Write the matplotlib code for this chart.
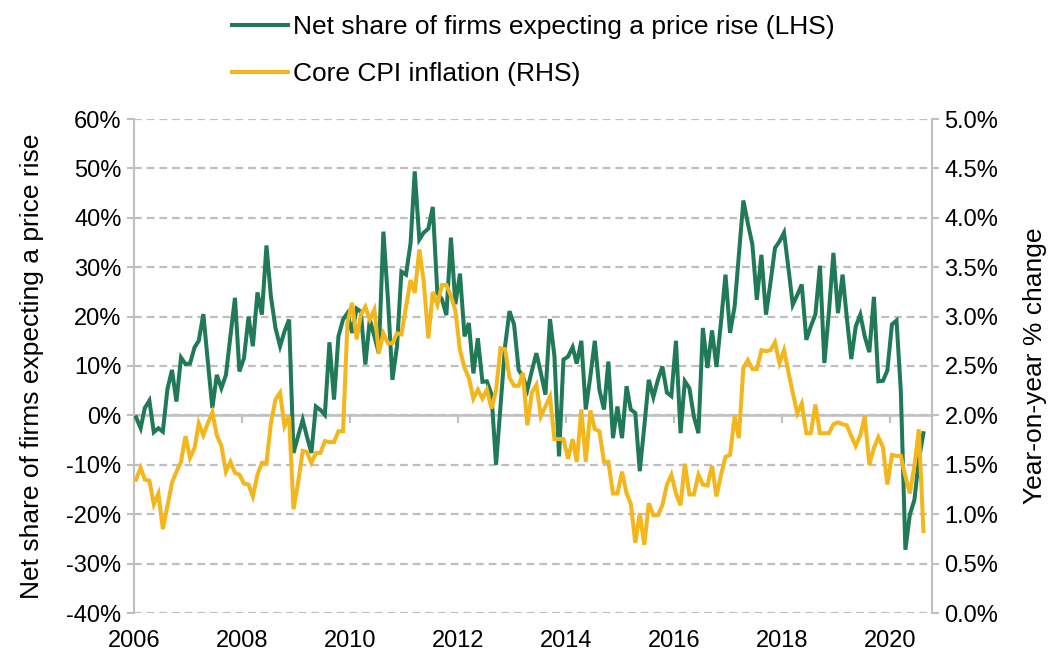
import matplotlib
matplotlib.use("Agg")
import matplotlib.pyplot as plt
import matplotlib.dates as mdates
import matplotlib.ticker as mticker
import pandas as pd
import numpy as np

plt.rcParams['font.family'] = ['Liberation Sans', 'DejaVu Sans']

# ---- data (monthly, Jan 2006 - Aug 2020) ----
start_month = '2006-01-01'
firms_2006 = [-0.4, -2.6, 1.5, 3.0, -3.4, -2.6, -3.3, 5.3, 9.2, 2.8, 11.7, 10.4]
firms_2007 = [10.5, 13.8, 15.1, 20.5, 11.0, 1.5, 8.2, 5.5, 8.2, 16.0, 23.8, 8.9]
firms_2008 = [11.6, 20.0, 14.0, 24.9, 20.4, 34.4, 24.1, 17.7, 14.0, 17.0, 19.4, -7.6]
firms_2009 = [-4.2, -0.9, -4.2, -7.6, 1.8, 1.1, 0.1, 14.8, 3.2, 16.0, 19.4, 20.7]
firms_2010 = [16.7, 21.6, 21.0, 10.3, 19.4, 16.0, 12.6, 37.2, 23.4, 7.2, 14.0, 29.1]
firms_2011 = [28.5, 34.9, 49.4, 35.6, 37.0, 37.8, 42.2, 24.8, 23.5, 20.3, 36.0, 22.5]
firms_2012 = [28.7, 16.0, 18.7, 8.5, 15.6, 6.8, 6.9, 4.3, -10.0, 1.8, 14.0, 21.1]
firms_2013 = [18.4, 9.2, 7.9, 5.2, 9.0, 12.6, 8.6, 4.2, 19.5, 12.0, -8.3, 11.3]
firms_2014 = [11.9, 13.8, 10.5, 15.1, 1.2, 7.9, 15.1, 5.2, 1.2, 10.9, -4.6, 1.8]
firms_2015 = [-4.6, 5.9, 1.2, 0.5, -11.3, -2.2, 7.2, 3.7, 7.2, 9.9, 4.6, 3.9]
firms_2016 = [15.1, -3.6, 6.9, 5.5, -0.2, -3.6, 17.7, 9.6, 17.2, 9.8, 19.0, 28.5]
firms_2017 = [16.7, 22.1, 32.2, 43.5, 38.9, 34.6, 23.4, 32.5, 20.4, 26.8, 33.9, 35.2]
firms_2018 = [37.0, 29.5, 22.4, 24.4, 26.5, 15.3, 18.0, 20.4, 30.3, 10.6, 21.0, 32.9]
firms_2019 = [20.7, 28.5, 20.0, 11.4, 18.0, 20.4, 16.0, 12.8, 24.0, 6.9, 7.0, 9.1]
firms_2020 = [18.4, 19.2, 5.0, -27.2, -20.1, -17.1, -9.0, -3.6]

cpi_2006 = [1.35, 1.47, 1.35, 1.34, 1.10, 1.21, 0.85, 1.08, 1.32, 1.43, 1.53, 1.79]
cpi_2007 = [1.57, 1.67, 1.92, 1.80, 1.92, 2.03, 1.80, 1.69, 1.43, 1.53, 1.42, 1.40]
cpi_2008 = [1.31, 1.30, 1.18, 1.40, 1.52, 1.52, 1.92, 2.16, 2.23, 1.89, 1.99, 1.05]
cpi_2009 = [1.32, 1.64, 1.63, 1.52, 1.62, 1.62, 1.74, 1.73, 1.73, 1.84, 1.84, 2.94]
cpi_2010 = [3.14, 2.77, 3.02, 3.10, 2.97, 3.07, 2.63, 2.83, 2.73, 2.73, 2.83, 2.82]
cpi_2011 = [3.10, 3.37, 3.24, 3.68, 3.35, 2.78, 3.25, 3.12, 3.32, 3.32, 3.21, 3.06]
cpi_2012 = [2.66, 2.48, 2.38, 2.17, 2.26, 2.17, 2.26, 2.07, 2.25, 2.68, 2.67, 2.38]
cpi_2013 = [2.30, 2.30, 2.43, 1.90, 2.23, 2.31, 1.99, 2.09, 2.19, 1.76, 1.76, 1.76]
cpi_2014 = [1.56, 1.76, 1.53, 2.06, 1.53, 2.05, 1.86, 1.84, 1.53, 1.53, 1.21, 1.21]
cpi_2015 = [1.43, 1.21, 1.11, 0.71, 1.01, 0.69, 1.11, 0.99, 0.99, 1.09, 1.30, 1.40]
cpi_2016 = [1.21, 1.09, 1.51, 1.20, 1.20, 1.40, 1.30, 1.29, 1.49, 1.18, 1.40, 1.58]
cpi_2017 = [1.60, 1.99, 1.77, 2.48, 2.56, 2.47, 2.47, 2.66, 2.65, 2.66, 2.74, 2.53]
cpi_2018 = [2.66, 2.43, 2.23, 2.02, 2.12, 1.82, 1.82, 2.11, 1.82, 1.82, 1.82, 1.91]
cpi_2019 = [1.93, 1.91, 1.90, 1.79, 1.69, 1.80, 1.99, 1.50, 1.67, 1.78, 1.68, 1.30]
cpi_2020 = [1.60, 1.59, 1.59, 1.38, 1.21, 1.49, 1.86, 0.83]

label_firms = "Net share of firms expecting a price rise (LHS)"
label_cpi = "Core CPI inflation (RHS)"
ylabel_left = "Net share of firms expecting a price rise"
ylabel_right = "Year-on-year % change"

firms = (firms_2006 + firms_2007 + firms_2008 + firms_2009 + firms_2010 + firms_2011
         + firms_2012 + firms_2013 + firms_2014 + firms_2015 + firms_2016 + firms_2017
         + firms_2018 + firms_2019 + firms_2020)
cpi = (cpi_2006 + cpi_2007 + cpi_2008 + cpi_2009 + cpi_2010 + cpi_2011 + cpi_2012
       + cpi_2013 + cpi_2014 + cpi_2015 + cpi_2016 + cpi_2017 + cpi_2018 + cpi_2019 + cpi_2020)

dates = pd.date_range(start_month, periods=len(firms), freq='MS') + pd.Timedelta(days=14)

GREEN = '#217A57'
YELLOW = '#F3B61C'
GREY = '#BFBFBF'
FS = 17
FS_LAB = 19

fig = plt.figure(figsize=(10.52, 6.56), dpi=100)
ax = fig.add_axes([134/1052, 1-613/656, (932-134)/1052, (613-119)/656])
ax2 = ax.twinx()

ax.plot(dates, firms, color=GREEN, lw=2.9, solid_joinstyle='miter', label=label_firms, zorder=3)
ax2.plot(dates, cpi, color=YELLOW, lw=2.9, solid_joinstyle='miter', label=label_cpi, zorder=3)

ax.set_xlim(pd.Timestamp('2006-01-01'), pd.Timestamp('2020-10-12'))
ax.set_ylim(-40, 60)
ax2.set_ylim(0, 5)
ax.yaxis.set_major_locator(mticker.MultipleLocator(10))
ax2.yaxis.set_major_locator(mticker.MultipleLocator(0.5))
ax.yaxis.set_major_formatter(mticker.FuncFormatter(lambda v, p: f"{v:.0f}%"))
ax2.yaxis.set_major_formatter(mticker.FuncFormatter(lambda v, p: f"{v:.1f}%"))

ax.xaxis.set_major_locator(mdates.YearLocator(2))
ax.xaxis.set_major_formatter(mdates.DateFormatter('%Y'))

ax.grid(axis='y', color=GREY, lw=1.6, linestyle=(0, (3.5, 2.2)))
ax.set_axisbelow(True)

for a in (ax, ax2):
    for s in ('top', 'bottom'):
        a.spines[s].set_visible(False)
ax.spines['left'].set_color(GREY)
ax.spines['left'].set_linewidth(1.5)
ax2.spines['right'].set_color(GREY)
ax2.spines['right'].set_linewidth(1.5)
ax2.spines['left'].set_visible(False)
ax.spines['right'].set_visible(False)

ax.tick_params(axis='y', direction='out', length=5, width=1.5, color=GREY,
               labelsize=FS, labelcolor='black', pad=4)
ax2.tick_params(axis='y', direction='out', length=5, width=1.5, color=GREY,
                labelsize=FS, labelcolor='black', pad=4)
ax.tick_params(axis='x', length=0, labelsize=FS, labelcolor='black', pad=12)

# zero line with year ticks
sec = ax.secondary_xaxis(0.4)
sec.xaxis.set_major_locator(mdates.YearLocator(2))
sec.xaxis.set_major_formatter(mticker.NullFormatter())
sec.tick_params(axis='x', direction='out', length=6, width=1.5, color=GREY)
sec.spines['bottom'].set_color(GREY)
sec.spines['bottom'].set_linewidth(1.8)
sec.spines['top'].set_color(GREY)
sec.spines['top'].set_linewidth(1.8)
try:
    sec.set_alignment('bottom')
except Exception:
    pass

ax.set_ylabel(ylabel_left, fontsize=FS_LAB, labelpad=16)
ax2.set_ylabel(ylabel_right, fontsize=FS_LAB, labelpad=18)

h1, l1 = ax.get_legend_handles_labels()
h2, l2 = ax2.get_legend_handles_labels()
fig.legend(h1 + h2, l1 + l2, loc='upper left', bbox_to_anchor=(214/1052, 1.005),
           frameon=False, fontsize=FS_LAB, handlelength=2.1, handletextpad=0.2,
           labelspacing=0.88, borderpad=0.2)

fig.savefig('out.png', dpi=100)
